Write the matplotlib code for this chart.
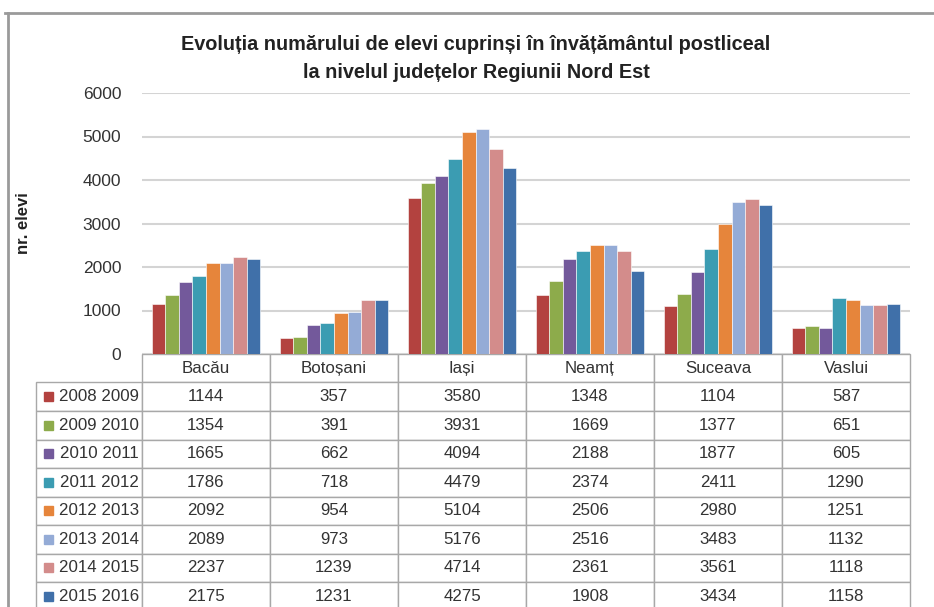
import matplotlib
matplotlib.use("Agg")
import matplotlib.pyplot as plt
import numpy as np
from matplotlib.lines import Line2D
from matplotlib.patches import Rectangle
from matplotlib.table import Table

# data
judete = ["Bacău", "Botoșani", "Iași", "Neamț", "Suceava", "Vaslui"]
ani = ["2008 2009", "2009 2010", "2010 2011", "2011 2012",
       "2012 2013", "2013 2014", "2014 2015", "2015 2016"]
v_0809 = [1144, 357, 3580, 1348, 1104, 587]
v_0910 = [1354, 391, 3931, 1669, 1377, 651]
v_1011 = [1665, 662, 4094, 2188, 1877, 605]
v_1112 = [1786, 718, 4479, 2374, 2411, 1290]
v_1213 = [2092, 954, 5104, 2506, 2980, 1251]
v_1314 = [2089, 973, 5176, 2516, 3483, 1132]
v_1415 = [2237, 1239, 4714, 2361, 3561, 1118]
v_1516 = [2175, 1231, 4275, 1908, 3434, 1158]
serii = [v_0809, v_0910, v_1011, v_1112, v_1213, v_1314, v_1415, v_1516]

culori = ["#b3423f", "#8dab4b", "#73599b", "#3b9cb2",
          "#e6853b", "#94abd6", "#d38c8b", "#4070a9"]

W, H = 934, 607
fig = plt.figure(figsize=(W / 100, H / 100), dpi=100)

# plot area in pixels
px_l, px_r, px_t, px_b = 142, 910, 93, 354
ax = fig.add_axes([px_l / W, 1 - px_b / H, (px_r - px_l) / W, (px_b - px_t) / H])

x = np.arange(len(judete))
n = len(serii)
group_w = 0.845
bw = group_w / n
for i in range(n):
    ax.bar(x - group_w / 2 + bw * (i + 0.5), serii[i], width=bw,
           color=culori[i], edgecolor="white", linewidth=0.4, zorder=3)

ax.set_xlim(-0.5, len(judete) - 0.5)
ax.set_ylim(0, 6000)
ax.set_yticks(np.arange(0, 6001, 1000))
ax.set_xticks([])
ax.tick_params(axis="y", length=0, pad=15, labelsize=12.5, labelcolor="#333333")
for lab in ax.get_yticklabels():
    lab.set_family("Liberation Sans")
ax.grid(axis="y", color="#d4d4d4", linewidth=1.5, zorder=0)
for s in ["left", "right", "top", "bottom"]:
    ax.spines[s].set_visible(False)

ax.set_ylabel("nr. elevi", fontsize=12, fontweight="bold", family="Liberation Sans",
              color="#222222", labelpad=0)
ax.yaxis.set_label_coords((31 - px_l) / (px_r - px_l), 0.5)

# data table below the plot (built cell by cell, sizes in axes fractions)
ax_w = px_r - px_l
ax_h = px_b - px_t
row_h = 28.5
leg_l = 36
rh = row_h / ax_h
cw = 1.0 / len(judete)
tab_h = rh * (len(ani) + 1)
tab = Table(ax, bbox=[0, -tab_h, 1, tab_h])
for c, jud in enumerate(judete):
    tab.add_cell(0, c, width=cw, height=rh, text=jud, loc="center")
for r, an in enumerate(ani):
    cell = tab.add_cell(r + 1, -1, width=(px_l - leg_l) / ax_w, height=rh, text=an, loc="right")
    cell.PAD = 0.03
    for c in range(len(judete)):
        tab.add_cell(r + 1, c, width=cw, height=rh, text=str(serii[r][c]), loc="center")
tab.auto_set_font_size(False)
for (r, c), cell in tab.get_celld().items():
    cell.set_edgecolor("#a8a8a8")
    cell.set_linewidth(1.0)
    cell.get_text().set_fontsize(12.2)
    cell.get_text().set_family("Liberation Sans")
    cell.get_text().set_color("#333333")
ax.add_table(tab)

# colored legend keys
for i in range(n):
    yc = -(row_h * (i + 1.5)) / ax_h
    ax.add_patch(Rectangle(((44 - px_l) / ax_w, yc - 4.5 / ax_h), 9 / ax_w, 9 / ax_h,
                           transform=ax.transAxes, color=culori[i], clip_on=False))

# title
fig.text(476 / W, 1 - 45 / H, "Evoluția numărului de elevi cuprinși în învățământul postliceal",
         ha="center", va="center", fontsize=14.3, fontweight="bold",
         family="Liberation Sans", color="#222222")
fig.text(476 / W, 1 - 73 / H, "la nivelul județelor Regiunii Nord Est",
         ha="center", va="center", fontsize=14.3, fontweight="bold",
         family="Liberation Sans", color="#222222")

# outer frame of the chart object
fig.add_artist(Line2D([5 / W, 1], [1 - 13 / H, 1 - 13 / H], transform=fig.transFigure,
                      color="#9a9a9a", linewidth=2))
fig.add_artist(Line2D([8 / W, 8 / W], [0, 1 - 13 / H], transform=fig.transFigure,
                      color="#9a9a9a", linewidth=2))

fig.savefig("out.png", dpi=100)
